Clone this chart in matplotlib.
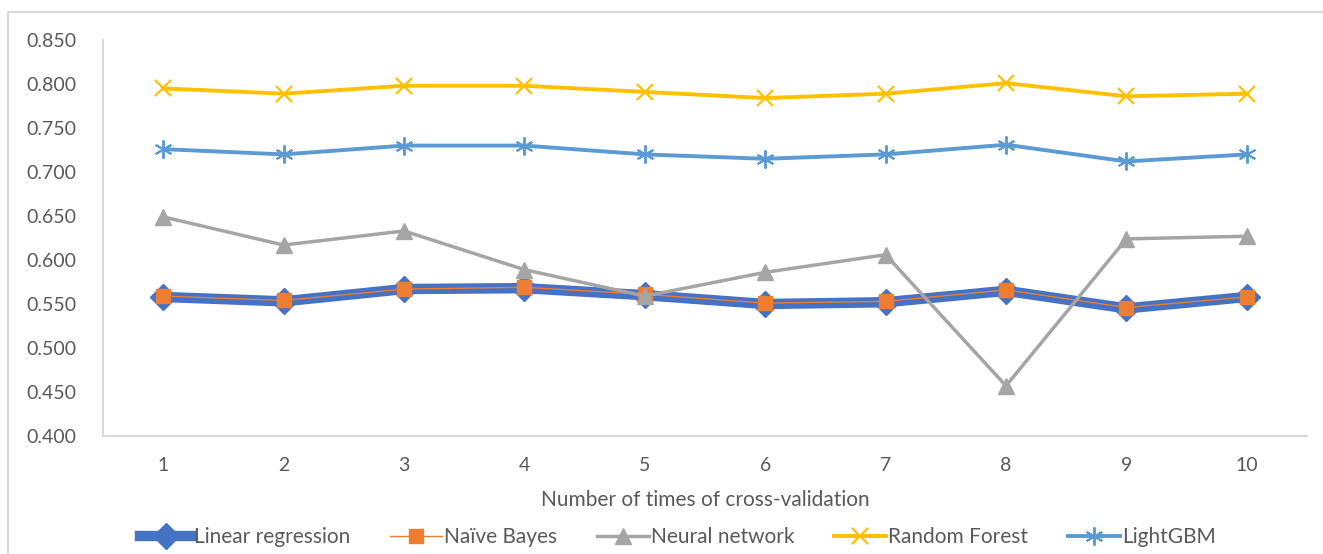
#!/usr/bin/env python3
import numpy as np
import matplotlib
matplotlib.use('Agg')
import matplotlib.pyplot as plt
from matplotlib.patches import Rectangle

# cross-validation rounds
folds = [1, 2, 3, 4, 5, 6, 7, 8, 9, 10]

# scores per model
linreg = [0.558, 0.553, 0.567, 0.568, 0.560, 0.550, 0.552, 0.565, 0.545, 0.558]
bayes = [0.559, 0.554, 0.567, 0.569, 0.561, 0.551, 0.553, 0.566, 0.546, 0.558]
neural = [0.649, 0.617, 0.633, 0.589, 0.559, 0.586, 0.606, 0.457, 0.624, 0.627]
forest = [0.795, 0.789, 0.798, 0.798, 0.791, 0.784, 0.789, 0.801, 0.786, 0.789]
lgbm = [0.726, 0.720, 0.730, 0.730, 0.720, 0.715, 0.720, 0.731, 0.712, 0.720]

yticks = [0.400, 0.450, 0.500, 0.550, 0.600, 0.650, 0.700, 0.750, 0.800, 0.850]

plt.rcParams['font.family'] = ['Lato', 'DejaVu Sans']
txt = '#595959'
grid = '#D9D9D9'

fig = plt.figure(figsize=(13.23, 5.54), dpi=100)
ax = fig.add_axes([103/1323, 118/554, (1307-103)/1323, (436-40)/554])

# outer chart border (only left/top edges are inside the picture)
fig.patches.append(Rectangle((8/1323, -0.1), 1.2, (554-12)/554 + 0.1,
                             transform=fig.transFigure, fill=False,
                             edgecolor=grid, lw=1.5))

ax.plot(folds, linreg, color='#4472C4', lw=7.5, marker='D', ms=13,
        label='Linear regression', solid_joinstyle='round')
ax.plot(folds, bayes, color='#ED7D31', lw=1, marker='s', ms=10,
        label='Naïve Bayes')
ax.plot(folds, neural, color='#A5A5A5', lw=2.5, marker='^', ms=11,
        label='Neural network')
ax.plot(folds, forest, color='#FFC000', lw=2.8, marker='x', ms=11, mew=1.6,
        label='Random Forest')
ax.plot(folds, lgbm, color='#5B9BD5', lw=2.8, marker=(6, 2, 0), ms=13, mew=1.4,
        label='LightGBM')

ax.set_xlim(0.5, 10.5)
ax.set_ylim(0.400, 0.850)
ax.set_xticks(folds)
ax.set_yticks(yticks)
ax.set_yticklabels(['%.3f' % v for v in yticks])
ax.tick_params(length=0, labelsize=14, colors=txt)
ax.tick_params(axis='x', pad=15)
ax.tick_params(axis='y', pad=19)
for s in ['top', 'right']:
    ax.spines[s].set_visible(False)
for s in ['left', 'bottom']:
    ax.spines[s].set_color(grid)
    ax.spines[s].set_linewidth(1.5)

ax.set_xlabel('Number of times of cross-validation', fontsize=15, color=txt,
              labelpad=12)

fig.legend(loc='center', bbox_to_anchor=(0.5125, 17/554), ncol=5, frameon=False,
           fontsize=15, labelcolor=txt, handlelength=2.5, handletextpad=0.1,
           columnspacing=1.9)

fig.savefig('out.png', dpi=100)
